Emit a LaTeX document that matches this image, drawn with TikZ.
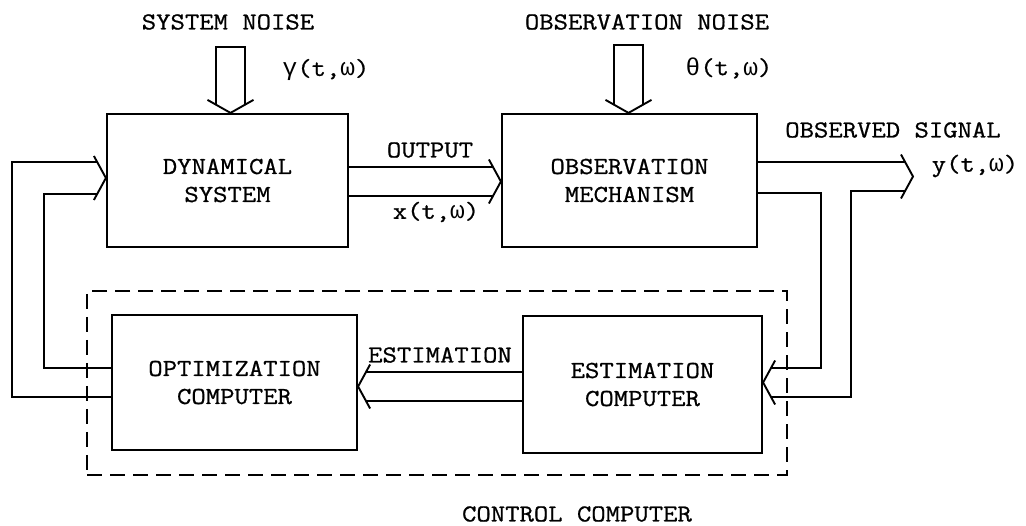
\documentclass[tikz,border=0pt]{standalone}
\usepackage{fontspec}
\setmonofont{Latin Modern Mono}[FakeStretch=1.143,FakeBold=0.8]
\newfontfamily\grk{Liberation Mono}
\usetikzlibrary{calc}
\newcommand{\gk}[1]{\makebox[0.6em]{\grk #1}}
\begin{document}
\begin{tikzpicture}[x=1pt,y=-1pt,
  every node/.style={font=\ttfamily\fontsize{24.4}{28}\selectfont,inner sep=0pt},
  box/.style={draw,line width=2.2pt,align=center},
  conn/.style={line width=1.9pt,line join=miter,line cap=butt},
  frame/.style={draw,line width=1.9pt,dash pattern=on 15pt off 8pt}]
\useasboundingbox[fill=white] (0,0) rectangle (1026,526);

% control computer frame
\node[frame,minimum width=700pt,minimum height=184pt] (cc) at (437,383) {};

% blocks
\node[box,minimum width=241pt,minimum height=133pt] (ds) at (227.5,180.5) {DYNAMICAL\\SYSTEM};
\node[box,minimum width=255pt,minimum height=133pt] (om) at (629.5,180.5) {OBSERVATION\\MECHANISM};
\node[box,minimum width=245pt,minimum height=135pt] (oc) at (234.5,382.5) {OPTIMIZATION\\COMPUTER};
\node[box,minimum width=239pt,minimum height=137pt] (ec) at (642.5,384.5) {ESTIMATION\\COMPUTER};

% labels
\node (sn) at (228,22) {SYSTEM NOISE};
\node (gam) at (326,70) {\gk{γ}(t,\gk{ω})};
\node (on) at (647,22) {OBSERVATION NOISE};
\node (the) at (729,68) {\gk{θ}(t,\gk{ω})};
\node (outl) at (430,150) {OUTPUT};
\node (xl) at (436,212) {x(t,\gk{ω})};
\node (osl) at (893,130) {OBSERVED SIGNAL};
\node (yl) at (975,166) {y(t,\gk{ω})};
\node (estl) at (440,355) {ESTIMATION};
\node (ccl) at (577,514) {CONTROL COMPUTER};

% system noise arrow
\coordinate (t1) at ($(ds.north)+(3,0)$);
\draw[conn] ($(t1)+(-14.5,-8.2)$) -- ($(t1)+(-14.5,-66)$) -- ($(t1)+(14.5,-66)$) -- ($(t1)+(14.5,-8.2)$);
\draw[conn] ($(t1)+(-23,-13)$) -- (t1) -- ($(t1)+(23,-13)$);

% observation noise arrow
\coordinate (t2) at ($(om.north)+(-1,0)$);
\draw[conn] ($(t2)+(-14.5,-8.2)$) -- ($(t2)+(-14.5,-68)$) -- ($(t2)+(14.5,-68)$) -- ($(t2)+(14.5,-8.2)$);
\draw[conn] ($(t2)+(-23,-13)$) -- (t2) -- ($(t2)+(23,-13)$);

% output: dynamical system -> observation mechanism
\coordinate (t3) at ($(om.west)+(0,1)$);
\draw[conn] ($(ds.east)+(0,-13.5)$) -- ($(t3)+(-7.9,-14.5)$);
\draw[conn] ($(ds.east)+(0,15.5)$) -- ($(t3)+(-7.9,14.5)$);
\draw[conn] ($(t3)+(-12,-22)$) -- (t3) -- ($(t3)+(-12,22)$);

% observed signal out
\coordinate (ysig) at (913,176.5);
\draw[conn] ($(om.east)+(0,-18.5)$) -- ($(ysig)+(-7.9,-14.5)$);
\draw[conn] ($(ysig)+(-12,-22)$) -- (ysig) -- ($(ysig)+(-12,22)$);

% branches to estimation computer
\coordinate (t4) at ($(ec.east)+(0,-2)$);
\draw[conn] ($(ysig)+(-7.9,14.5)$) -- ++(-54,0) |- ($(t4)+(7.9,14.5)$);
\draw[conn] ($(om.east)+(0,12.5)$) -- ++(63,0) |- ($(t4)+(7.9,-14.5)$);
\draw[conn] ($(t4)+(12,-22)$) -- (t4) -- ($(t4)+(12,22)$);

% estimation: estimation computer -> optimization computer
\coordinate (t5) at ($(oc.east)+(0,4)$);
\draw[conn] ($(ec.west)+(0,-12.5)$) -- ($(t5)+(7.9,-14.5)$);
\draw[conn] ($(ec.west)+(0,16.5)$) -- ($(t5)+(7.9,14.5)$);
\draw[conn] ($(t5)+(12,-22)$) -- (t5) -- ($(t5)+(12,22)$);

% feedback: optimization computer -> dynamical system
\coordinate (t6) at ($(ds.west)+(0,-2.5)$);
\draw[conn] ($(oc.west)+(0,-14.5)$) -- ++(-67,0) |- ($(t6)+(-8.7,16)$);
\draw[conn] ($(oc.west)+(0,14.5)$) -- ++(-99,0) |- ($(t6)+(-8.7,-16)$);
\draw[conn] ($(t6)+(-12,-22)$) -- (t6) -- ($(t6)+(-12,22)$);
\end{tikzpicture}
\end{document}
